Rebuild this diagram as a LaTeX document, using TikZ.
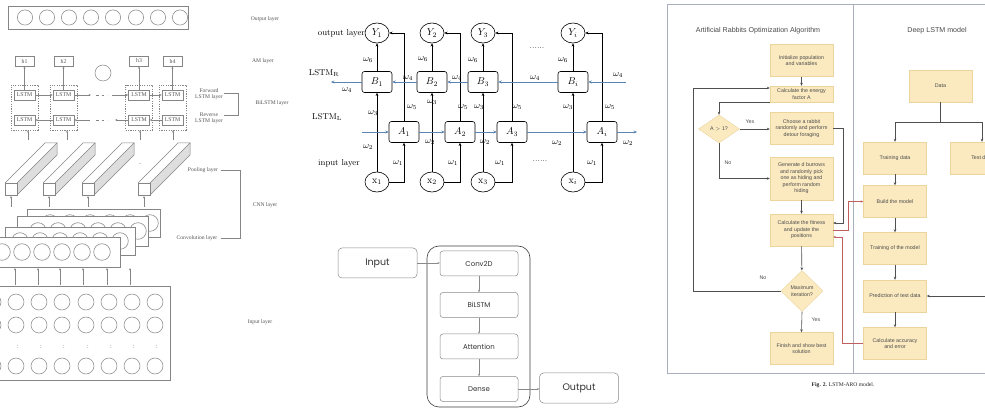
\documentclass[tikz,border=0pt]{standalone}
\usepackage{fontspec}
\usetikzlibrary{arrows.meta,shapes.geometric,calc}
\newfontfamily\arialf{Liberation Sans}
\newfontfamily\timesf{Liberation Serif}
\newfontfamily\poppf{Poppins}
\definecolor{lgray}{HTML}{858585}
\definecolor{ltxt}{HTML}{555555}
\definecolor{bluel}{HTML}{5A84B6}
\definecolor{boxf}{HTML}{FBEAC0}
\definecolor{boxb}{HTML}{EBD59C}
\definecolor{rtxt}{HTML}{4A4A4A}
\definecolor{darkg}{HTML}{4F4F4F}
\definecolor{redc}{HTML}{C0605E}
\definecolor{framec}{HTML}{A9AFBC}
\definecolor{pgray}{HTML}{8A8A8A}
\tikzset{
  lline/.style={draw=lgray, line width=0.5pt},
  larr/.style={draw=lgray, line width=0.5pt, -{Stealth[length=2.4pt,width=2pt]}},
  ltext/.style={font=\timesf\fontsize{5.6}{6.3}\selectfont, text=ltxt, inner sep=0.5pt},
  lbox/.style={draw=lgray, line width=0.5pt, minimum width=21pt, minimum height=10pt, inner sep=0, font=\timesf\fontsize{5.8}{6}\selectfont, text=ltxt},
  hbox/.style={draw=lgray, line width=0.5pt, minimum width=19pt, minimum height=10pt, inner sep=0, font=\timesf\fontsize{5.8}{6}\selectfont, text=ltxt},
  dbox/.style={draw=lgray, line width=0.45pt, dash pattern=on 1.2pt off 1.2pt, minimum width=27pt, minimum height=45pt, inner sep=0},
  mbox/.style={draw, rounded corners=2.5pt, minimum width=30pt, minimum height=21pt, inner sep=0, line width=0.6pt, font=\fontsize{10}{11}\selectfont},
  mell/.style={ellipse, draw, minimum width=24pt, minimum height=20pt, inner sep=0, line width=0.6pt, font=\fontsize{10}{11}\selectfont},
  marr/.style={line width=0.6pt, -{Stealth[length=3.2pt,width=2.8pt]}},
  barr/.style={draw=bluel, line width=0.7pt, -{Stealth[length=3.4pt,width=3pt]}},
  wlab/.style={font=\fontsize{9}{10}\selectfont, inner sep=0},
  mtext/.style={font=\fontsize{8.5}{9}\selectfont, inner sep=0},
  pbox/.style={draw=pgray, rounded corners=3pt, line width=0.5pt, minimum width=78pt, minimum height=25pt, inner sep=0, font=\poppf\fontsize{7}{7.5}\selectfont, text=black!80},
  pbig/.style={pbox, minimum width=79pt, minimum height=30pt, rounded corners=4pt, font=\poppf\fontsize{9.5}{10}\selectfont},
  parr/.style={draw=pgray, line width=0.5pt, -{Stealth[length=2.2pt,width=2pt]}},
  rbox/.style={draw=boxb, line width=0.4pt, fill=boxf, minimum width=63pt, minimum height=32pt, inner sep=1pt, align=center, font=\arialf\fontsize{5.3}{6.5}\selectfont, text=rtxt},
  rdia/.style={diamond, draw=boxb, line width=0.4pt, fill=boxf, inner sep=0, align=center, font=\arialf\fontsize{5.3}{6.5}\selectfont, text=rtxt},
  rarr/.style={draw=darkg, line width=0.6pt, -{Stealth[length=3pt,width=2.6pt]}},
  redarr/.style={draw=redc, line width=0.45pt, -{Stealth[length=2.6pt,width=2.2pt]}},
  rlab/.style={font=\arialf\fontsize{5.3}{6}\selectfont, text=rtxt, inner sep=0},
  rtitle/.style={font=\arialf\fontsize{7.1}{8}\selectfont, text=rtxt, inner sep=0}
}
\begin{document}
\begin{tikzpicture}[x=1pt,y=-1pt]
\useasboundingbox (0,0) rectangle (985,419);
\clip (0,0) rectangle (985,419);
\fill[white] (0,0) rectangle (985,419);

% ================= LEFT PANEL =================
% output layer
\draw[lline] (8,6) rectangle (188,29);
\foreach \cx in {25,47,69,91,113,136,158,180} \draw[lline] (\cx,17.5) circle[radius=7.6];
\node[ltext] (tout) at (265,19) {Output layer};

% AM layer
\foreach \n/\cx/\lb in {1/24.5/h1,2/63.5/h2,3/139/h3,4/172.5/h4}
  \node[hbox] (h\n) at (\cx,61) {\lb};
\draw[lline] (103,73) circle[radius=8];
\node[ltext] (tam) at (263,61) {AM layer};

% BiLSTM layer
\foreach \n/\cx in {1/24.5,2/63.5,3/139,4/172.5}{
  \node[dbox] (d\n) at (\cx,107.5) {};
  \node[lbox] (f\n) at (\cx,95) {LSTM};
  \node[lbox] (r\n) at (\cx,120) {LSTM};
  \draw[larr] (f\n) -- (h\n);
}
\coordinate (fa) at (91,95);
\coordinate (fb) at (112,95);
\coordinate (ra) at (115,120);
\coordinate (rb) at (90,120);
\draw[larr] (f1) -- (f2);
\draw[larr] (f2) -- (fa);
\draw[lline, dash pattern=on 2.5pt off 3pt] (96,95) -- (107,95);
\draw[larr] (fb) -- (f3);
\draw[larr] (f3) -- (f4);
\draw[larr] (r4) -- (r3);
\draw[larr] (r3) -- (ra);
\draw[lline, dash pattern=on 2.5pt off 3pt] (96,120) -- (107,120);
\draw[larr] (rb) -- (r2);
\draw[larr] (r2) -- (r1);
\foreach \n/\cx in {1/28,2/67,3/140,4/173}{
  \coordinate (u\n) at (\cx,140);
  \draw[larr] (u\n) -- (u\n |- d\n.south);
}
\node[ltext, align=center] (tfw) at (209,94) {Forward\\LSTM layer};
\node[ltext, align=center] (trv) at (209,118) {Reverse\\LSTM layer};
\draw[lline] (224,93) -- (238,93) -- (238,115) -- (224,115);
\node[ltext] (tbi) at (272,103) {BiLSTM layer};

% pooling prisms
\foreach \px in {5,43,82,138}{
  \fill[black!13] (\px+12,183) -- (\px+52,143) -- (\px+52,155) -- (\px+12,195) -- cycle;
  \draw[lline] (\px,183) rectangle (\px+12,195);
  \draw[lline] (\px,183) -- (\px+40,143) -- (\px+52,143) -- (\px+12,183);
  \draw[lline] (\px+52,143) -- (\px+52,155) -- (\px+12,195);
  \draw[larr] (\px+6,207) -- (\px+6,196);
}
\node[ltext] (tdots) at (140,164) {..};

% convolution layers
\foreach \xa/\ya/\xb/\yb/\cs in {27/209/160/237/50, 17/216/148/246/38, 5/227/135/255/20, -5/237/120/267/2}{
  \filldraw[lline, fill=white] (\xa,\ya) rectangle (\xb,\yb);
  \foreach \k in {0,...,5} \draw[lline] ({\cs+20*\k},{(\ya+\yb)/2}) circle[radius=8.3];
}
\foreach \cx in {15,38,60,83,107,130} \draw[larr] (\cx,285) -- (\cx,268);
\node[ltext] (tpool) at (203,170) {Pooling layer};
\node[ltext] (tconv) at (197,238) {Convolution layer};
\draw[lline] (221,170) -- (240,170) -- (240,238) -- (221,238);
\node[ltext] (tcnn) at (265,205) {CNN layer};

% input layer
\draw[lline] (-5,286) rectangle (170,380);
\foreach \cy in {302,325,366} \draw[lline] (-7,\cy) circle[radius=8];
\foreach \cx in {16,39,62,86,109,132,155}{
  \foreach \cy in {302,325,366} \draw[lline] (\cx,\cy) circle[radius=8];
  \node[ltext] at (\cx+2,347) {:};
}
\node[ltext] (tin) at (260,322) {Input layer};

% ================= MIDDLE TOP =================
\foreach \n/\yx/\ax/\lb in {1/377/404/1, 2/432/460/2, 3/483/512/3, 4/573/602/i}{
  \node[mell] (Y\n) at (\yx,33) {$Y_{\lb}$};
  \node[mbox] (B\n) at (\yx,82) {$B_{\lb}$};
  \node[mbox] (A\n) at (\ax,132) {$A_{\lb}$};
  \node[mell] (X\n) at (\yx,182) {$\mathrm{x}_{\lb}$};
  \draw[marr] (X\n) -- (B\n);
  \draw[marr] (X\n.east) -| (A\n.south);
  \draw[marr] (A\n.north) |- (Y\n.east);
  \draw[marr] (B\n) -- (Y\n);
}
\coordinate (Lin) at (362,132);
\coordinate (Lout) at (637,132);
\coordinate (Rin) at (626,82);
\coordinate (Rout) at (331,82);
\draw[barr] (Lin) -- (A1);
\draw[barr] (A1) -- (A2);
\draw[barr] (A2) -- (A3);
\draw[barr] (A3) -- (A4);
\draw[barr] (A4) -- (Lout);
\draw[barr] (Rin) -- (B4);
\draw[barr] (B4) -- (B3);
\draw[barr] (B3) -- (B2);
\draw[barr] (B2) -- (B1);
\draw[barr] (B1) -- (Rout);

\node[mtext, anchor=east] (tol) at (365,33) {output layer};
\node[mtext] (tlr) at (324,73) {LSTM$_{\mathrm{R}}$};
\node[mtext] (tll) at (327,117) {LSTM$_{\mathrm{L}}$};
\node[mtext] (til) at (339,163) {input layer};
\foreach \px/\py in {368/60,423/59,473/60,563/60} \node[wlab] at (\px,\py) {$\omega_6$};
\foreach \px/\py in {347/90,408/78,457/78,535/78,618/75} \node[wlab] at (\px,\py) {$\omega_4$};
\foreach \px/\py in {412/107,463/107,517/107,610/107} \node[wlab] at (\px,\py) {$\omega_5$};
\foreach \px/\py in {373/113,432/102,479/107,568/107} \node[wlab] at (\px,\py) {$\omega_3$};
\foreach \px/\py in {368/147,430/142,485/142,557/143,628/143} \node[wlab] at (\px,\py) {$\omega_2$};
\foreach \px/\py in {398/163,453/163,500/163,592/163} \node[wlab] at (\px,\py) {$\omega_1$};
\node[mtext] (dt1) at (537,48) {......};
\node[mtext] (dt2) at (540,161) {......};

% ================= MIDDLE BOTTOM =================
\draw[draw=black!75, line width=0.6pt, rounded corners=12pt] (427,246) rectangle (530,407);
\node[pbig] (pin) at (377.5,263) {Input};
\node[pbox] (pconv) at (479,263.5) {Conv2D};
\node[pbox] (pbil) at (479,305) {BiLSTM};
\node[pbox] (patt) at (479,346.5) {Attention};
\node[pbox] (pden) at (479,389) {Dense};
\node[pbig] (pout) at (579,388) {Output};
\draw[parr] (pin.east) -- (pconv.west |- pin.east);
\draw[parr] (pconv) -- (pbil);
\draw[parr] (pbil) -- (patt);
\draw[parr] (patt) -- (pden);
\draw[parr] (pden.east) -- (pout.west |- pden.east);

% ================= RIGHT PANEL =================
\draw[draw=framec, line width=0.6pt] (667,4) rectangle (1010,373);
\draw[draw=framec, line width=0.6pt] (853,4) -- (853,373);
\node[rtitle] (ttl1) at (758,31) {Artificial Rabbits Optimization Algorithm};
\node[rtitle] (ttl2) at (937,31) {Deep LSTM model};

\node[rbox] (init) at (801.5,60.5) {Initialize population\\and variables};
\node[rbox, minimum height=16pt, inner sep=0.5pt] (energy) at (801.5,94) {Calculate the energy\\factor A};
\node[rdia, minimum width=41pt, minimum height=28pt] (diaA) at (719,129) {A $>$ 1?};
\node[rbox] (choose) at (801.5,128.5) {Choose a rabbit\\randomly and perform\\detour foraging};
\node[rbox, minimum height=43pt] (gen) at (801.5,178.5) {Generate d burrows\\and randomly pick\\one as hiding and\\perform random\\hiding};
\node[rbox] (fit) at (801.5,230) {Calculate the fitness\\and update the\\positions};
\node[rdia, minimum width=42pt, minimum height=41pt] (diaM) at (802,291) {Maximum\\iteration?};
\node[rbox] (finish) at (801.5,348.5) {Finish and show best\\solution};

\node[rbox] (data) at (940.5,86) {Data};
\node[rbox] (train) at (895,158) {Training data};
\node[rbox] (test) at (982,158) {Test data};
\node[rbox] (build) at (895,201.5) {Build the model};
\node[rbox] (trainm) at (895,248.5) {Training of the model};
\node[rbox] (pred) at (895,296) {Prediction of test data};
\node[rbox] (acc) at (895,343.5) {Calculate accuracy\\and error};

\draw[rarr] (init) -- (energy);
\draw[rarr] (energy.south west) -| (diaA.north);
\draw[rarr] (diaA.east) -- (choose.west |- diaA.east);
\node[rlab] (lyes1) at (750,122) {Yes};
\draw[rarr] (diaA.south) |- (gen.west);
\node[rlab] (lno1) at (728,163) {No};
\coordinate (chr) at (843,128.5);
\draw[rarr] (choose.east) -- (chr) |- ($(fit.east)+(0,-7)$);
\draw[rarr] (gen) -- (fit);
\draw[rarr] (fit) -- (diaM);
\coordinate (loopx) at (693,291);
\draw[rarr] (diaM.west) -- (loopx) |- ($(energy.west)+(0,-6)$);
\node[rlab] (lno2) at (763,278) {No};
\draw[rarr] (diaM.south) -- (finish.north);
\node[rlab] (lyes2) at (816,320) {Yes};

\coordinate (rd1) at (848,230);
\draw[redarr] (fit.east) -- (rd1) |- (build.west);
\coordinate (rd2) at (842,343.5);
\draw[redarr] (acc.west) -- (rd2) |- ($(fit.east)+(0,7)$);

\coordinate (split) at (940.5,122);
\draw[draw=darkg, line width=0.6pt] (data.south) -- (split);
\draw[rarr] (split) -| (train.north);
\draw[rarr] (split) -| (test.north);
\draw[rarr] (train) -- (build);
\draw[rarr] (build) -- (trainm);
\draw[rarr] (trainm) -- (pred);
\draw[rarr] (pred) -- (acc);
\coordinate (predin) at (995,296);
\draw[rarr] (predin) -- (pred.east);

\node[font=\timesf\fontsize{5.6}{6}\selectfont, text=black!85] (cap) at (843,385) {\textbf{Fig. 2.} LSTM-ARO model.};
\end{tikzpicture}
\end{document}
